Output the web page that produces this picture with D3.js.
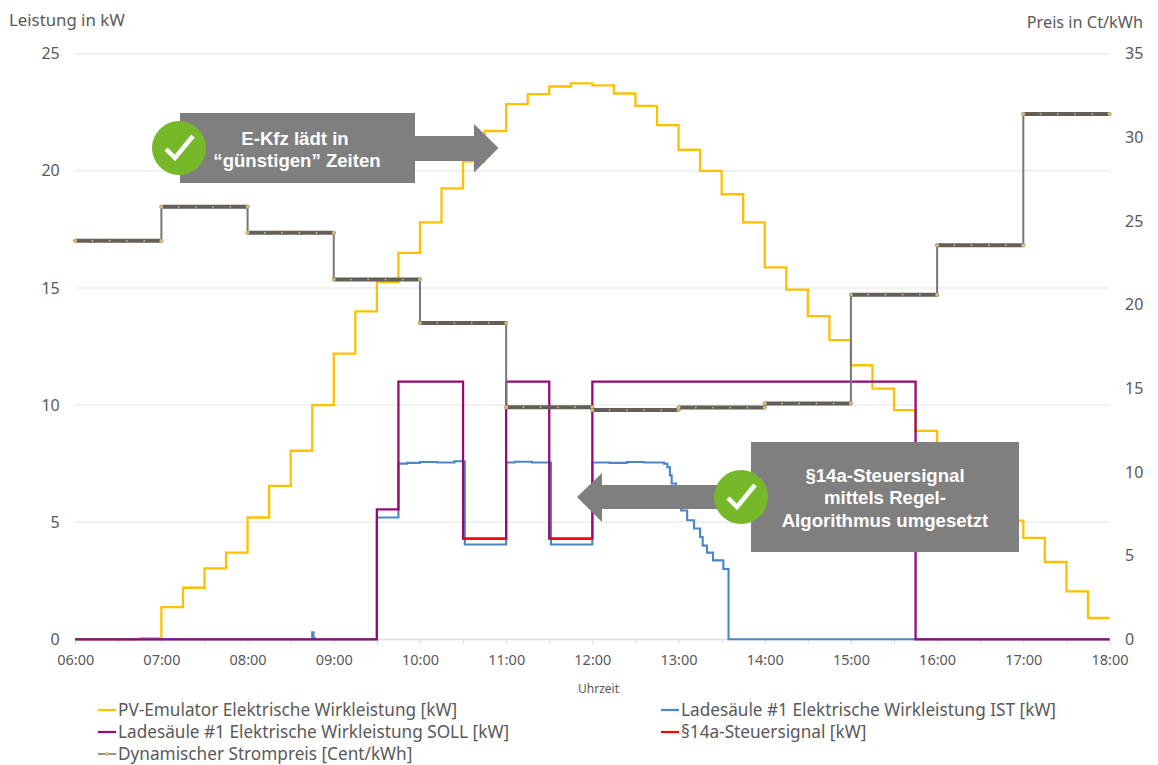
<!DOCTYPE html>
<html><head><meta charset="utf-8">
<script src="https://cdn.jsdelivr.net/npm/d3@7"></script>
<style>html,body{margin:0;padding:0;background:#fff}svg{display:block}text{font-family:"Noto Sans",sans-serif}</style>
</head><body><svg id="c" width="1158" height="765"></svg>
<script>
const xTickLabels=["06:00","07:00","08:00","09:00","10:00","11:00","12:00","13:00","14:00","15:00","16:00","17:00","18:00"];
const leftTicks=[0,5,10,15,20,25];
const rightTicks=[0,5,10,15,20,25,30,35];
// PV, one value per quarter hour from 06:00
const pvValues=[0,0,0,0.05,1.37,2.2,3.03,3.7,5.2,6.55,8.05,10,12.2,14,15.25,16.5,17.8,19.25,20.4,21.7,22.85,23.27,23.6,23.73,23.65,23.3,22.77,21.95,20.9,20,19,17.8,15.88,14.93,13.8,12.77,11.7,10.7,9.78,8.9,8.1,7.3,6.3,5.07,4.33,3.3,2.05,0.91,0.91];
// Price, one per hour from 06:00
const priceValues=[23.82,25.85,24.3,21.5,18.9,13.87,13.7,13.85,14.1,20.6,23.55,31.4,31.4];
const markerMinutes=[0,12,24,36,48,60];
// [hour, kW]
const istTimes=[6,8.75,8.765,8.78,9.5,9.55,9.75,9.85,10,10.2,10.4,10.52,11,11.1,11.3,11.52,12,12.2,12.4,12.6,12.83,12.87,12.9,12.92,12.97,13.03,13.1,13.13,13.18,13.25,13.28,13.33,13.4,13.52,13.56,13.58,18];
const istValues=[0,0.3,0.05,0,5.2,5.2,7.5,7.53,7.57,7.55,7.6,4.05,7.55,7.58,7.55,4.05,7.55,7.53,7.57,7.55,7.5,7.35,7.0,6.65,6.0,5.5,5.08,5.08,4.73,4.37,4.0,3.7,3.37,3.0,3.0,0,0];
const sollTimes=[6,9.5,9.75,10.5,11,11.5,12,15.75,18];
const sollValues=[0,5.55,11,4.3,11,4.3,11,0,0];
const signalSegments=[[10.5,11,4.3],[11.5,12,4.3]];
const legendLabels=["PV-Emulator Elektrische Wirkleistung [kW]","Ladesäule #1 Elektrische Wirkleistung SOLL [kW]","Dynamischer Strompreis [Cent/kWh]","Ladesäule #1 Elektrische Wirkleistung IST [kW]","§14a-Steuersignal [kW]"];
const colors={pv:"#ffc000",ist:"#4a86c8",soll:"#960a78",sig:"#ff0000",price:"#7a7672",dark:"#635f58",tan:"#d9b878",grid:"#ececec",text:"#595959",box:"#7f7f7f",green:"#76b82a"};

const svg=d3.select("#c");
const x=d3.scaleLinear().domain([6,18]).range([75.2,1109.5]);
const y=d3.scaleLinear().domain([0,25]).range([639.3,53.7]);
const y2=d3.scaleLinear().domain([0,35]).range([639.3,53.7]);

// grid
svg.append("g").selectAll("line").data(leftTicks).join("line")
 .attr("x1",x(6)).attr("x2",x(18)).attr("y1",d=>y(d)).attr("y2",d=>y(d))
 .attr("stroke",colors.grid).attr("stroke-width",1.6);

// x axis
const xa=svg.append("g").attr("transform",`translate(0,${y(0)})`)
 .call(d3.axisBottom(x).tickValues(d3.range(6,18.01,0.5)).tickSize(5).tickPadding(10)
   .tickFormat(d=>Number.isInteger(d)?xTickLabels[d-6]:""));
xa.select(".domain").attr("stroke","#dcdcdc");
xa.selectAll("line").attr("stroke","#dcdcdc");
xa.selectAll("text").attr("fill",colors.text).style("font-size","14.5px").style("font-family",'"Noto Sans"');

// y axes
const ya=svg.append("g").attr("transform",`translate(${x(6)-15.5},0)`)
 .call(d3.axisLeft(y).tickValues(leftTicks).tickSize(0).tickPadding(0));
ya.select(".domain").remove();
ya.selectAll("text").attr("fill",colors.text).style("font-size","16px").style("font-family",'"Noto Sans"');
const yb=svg.append("g").attr("transform",`translate(${x(18)+15.5},0)`)
 .call(d3.axisRight(y2).tickValues(rightTicks).tickSize(0).tickPadding(0));
yb.select(".domain").remove();
yb.selectAll("text").attr("fill",colors.text).style("font-size","16px").style("font-family",'"Noto Sans"');

svg.append("text").attr("x",9).attr("y",25.5).attr("fill",colors.text).style("font-size","16.8px").text("Leistung in kW");
svg.append("text").attr("x",1143).attr("y",28).attr("text-anchor","end").attr("fill",colors.text).style("font-size","16.3px").text("Preis in Ct/kWh");
svg.append("text").attr("x",598.5).attr("y",693).attr("text-anchor","middle").attr("fill",colors.text).style("font-size","12px").text("Uhrzeit");

const stepLine=(sc)=>d3.line().x(d=>x(d[0])).y(d=>sc(d[1])).curve(d3.curveStepAfter);
const plines=svg.append("g").attr("fill","none").attr("stroke-linejoin","miter");

const pvPts=pvValues.map((v,i)=>[6+i*0.25,v]);
plines.append("path").attr("d",stepLine(y)(pvPts)).attr("stroke",colors.pv).attr("stroke-width",2.3);
const istPts=istTimes.map((t,i)=>[t,istValues[i]]);
plines.append("path").attr("d",stepLine(y)(istPts)).attr("stroke",colors.ist).attr("stroke-width",2.1);
const sollPts=sollTimes.map((t,i)=>[t,sollValues[i]]);
plines.append("path").attr("d",stepLine(y)(sollPts)).attr("stroke",colors.soll).attr("stroke-width",2.3);
svg.append("g").selectAll("line").data(signalSegments).join("line")
 .attr("x1",d=>x(d[0])).attr("x2",d=>x(d[1])).attr("y1",d=>y(d[2])).attr("y2",d=>y(d[2]))
 .attr("stroke",colors.sig).attr("stroke-width",2.2);

// price: thin risers, thick marker-filled treads
const pricePts=priceValues.map((v,i)=>[6+i,v]);
plines.append("path").attr("d",stepLine(y2)(pricePts)).attr("stroke",colors.price).attr("stroke-width",2);
const treads=svg.append("g");
priceValues.slice(0,12).forEach((v,i)=>{
  treads.append("line").attr("x1",x(6+i)).attr("x2",x(7+i)).attr("y1",y2(v)).attr("y2",y2(v))
    .attr("stroke",colors.dark).attr("stroke-width",4).attr("stroke-linecap","round");
  treads.selectAll(null).data(markerMinutes).join("circle")
    .attr("cx",m=>x(6+i+m/60)).attr("cy",y2(v)).attr("r",m=>(m===0||m===60)?1.9:0.9)
    .attr("fill",colors.tan);
});

// callouts
function callout(rect,shaft,head,circle,lines){
  const g=svg.append("g");
  g.append("polygon").attr("fill",colors.box).attr("points",shaft.concat(head).map(p=>p.join(",")).join(" "));
  g.append("rect").attr("x",rect[0]).attr("y",rect[1]).attr("width",rect[2]).attr("height",rect[3]).attr("fill",colors.box);
  lines.forEach(l=>g.append("text").attr("x",l[1]).attr("y",l[2]).attr("text-anchor","middle").attr("fill","#fff")
    .style("font-family",'"Liberation Sans"').style("font-weight","bold").style("font-size","18.6px").text(l[0]));
  g.append("circle").attr("cx",circle[0]).attr("cy",circle[1]).attr("r",27).attr("fill",colors.green);
  const c=circle;
  g.append("path").attr("d",`M${c[0]-13},${c[1]+1}L${c[0]-4},${c[1]+10}L${c[0]+14},${c[1]-12}`)
   .attr("fill","none").attr("stroke","#fff").attr("stroke-width",4.5);
}
callout([180,113,235,70],[[415,136],[474,136],[474,124]],[[498.5,148],[474,172.5],[474,161],[415,161]],[179,148],
 [["E-Kfz lädt in",295,144.5],["“günstigen” Zeiten",297,167]]);
callout([751,442,268,110],[[751,485],[602,485],[602,473]],[[577,497],[602,522],[602,509],[751,509]],[741,497],
 [["§14a-Steuersignal",885,481.5],["mittels Regel-",885,504],["Algorithmus umgesetzt",885,526.5]]);

// legend
const legendPos=[[98,710],[98,732],[98,754],[661,710],[661,732]];
const legendCols=[colors.pv,colors.soll,colors.price,colors.ist,colors.sig];
const lg=svg.append("g");
legendLabels.forEach((t,i)=>{
  const [lx,ly]=legendPos[i];
  lg.append("line").attr("x1",lx).attr("x2",lx+18).attr("y1",ly).attr("y2",ly).attr("stroke",legendCols[i]).attr("stroke-width",i===2?1.6:2.2);
  if(i===2) lg.append("circle").attr("cx",lx+9).attr("cy",ly).attr("r",2).attr("fill",colors.tan);
  lg.append("text").attr("x",lx+20).attr("y",ly+5.5).attr("fill",colors.text).style("font-size","17.2px").text(t);
});
</script></body></html>
